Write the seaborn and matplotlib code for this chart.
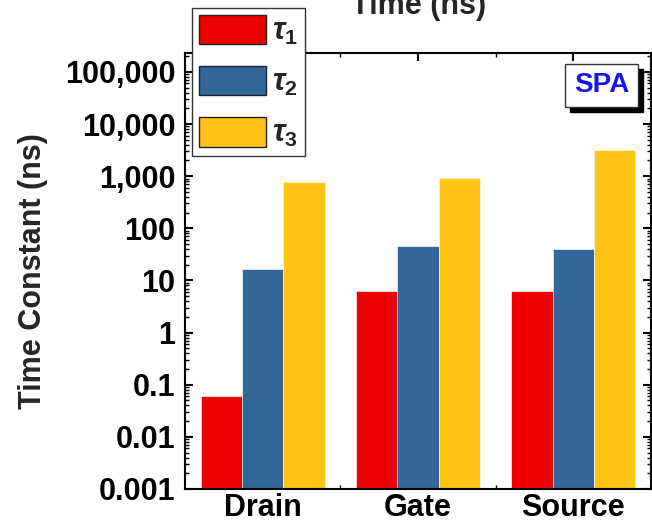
import numpy as np
import pandas as pd
import matplotlib
matplotlib.use("Agg")
import matplotlib.pyplot as plt
import seaborn as sns
from matplotlib.ticker import FixedLocator, FixedFormatter, LogLocator, NullFormatter
from matplotlib.patches import Rectangle, Patch

# Fitted time constants per terminal (ns)
terminals = ["Drain", "Gate", "Source"]
tau1 = [0.061, 6.2, 6.2]
tau2 = [16.3, 45.6, 40.6]
tau3 = [776, 915, 3200]
components = [r"$\tau_1$", r"$\tau_2$", r"$\tau_3$"]
colors = ["#EE0000", "#336699", "#FFC414"]

ytick_values = [1e-3, 1e-2, 1e-1, 1, 10, 100, 1e3, 1e4, 1e5]
ytick_labels = ["0.001", "0.01", "0.1", "1", "10", "100", "1,000", "10,000", "100,000"]

sns.set_theme(style="ticks")
plt.rcParams["font.family"] = ["Liberation Sans", "DejaVu Sans"]
plt.rcParams["font.weight"] = "bold"
plt.rcParams["mathtext.fontset"] = "custom"
plt.rcParams["mathtext.rm"] = "Liberation Sans:bold"
plt.rcParams["mathtext.it"] = "Liberation Sans:bold:italic"
plt.rcParams["mathtext.bf"] = "Liberation Sans:bold"

df = pd.DataFrame({
    "terminal": terminals * 3,
    "component": [c for c in components for _ in terminals],
    "value": tau1 + tau2 + tau3,
})

W, H = 652, 527
fig = plt.figure(figsize=(W / 100, H / 100), dpi=100)
ax = fig.add_axes([185 / W, 1 - 489 / H, 466 / W, 436 / H])

sns.barplot(data=df, x="terminal", y="value", hue="component",
            order=terminals, hue_order=components, palette=colors,
            saturation=1, width=0.8, gap=0, errorbar=None,
            edgecolor="#f2f2f2", linewidth=0.5, legend=False, ax=ax)

ax.set_yscale("log")
ax.set_ylim(1e-3, 2.3e5)
ax.set_xlim(-0.5, 2.5)

ax.yaxis.set_major_locator(FixedLocator(ytick_values))
ax.yaxis.set_major_formatter(FixedFormatter(ytick_labels))
ax.yaxis.set_minor_locator(LogLocator(base=10, subs=np.arange(2, 10), numticks=30))
ax.yaxis.set_minor_formatter(NullFormatter())
ax.set_xticks(range(len(terminals)))
ax.set_xticklabels(terminals)
ax.set_xticks([0.5, 1.5], minor=True)

ax.tick_params(which="both", direction="in", left=True, right=True,
               top=True, bottom=True, colors="black")
ax.tick_params(which="major", length=6, width=1.5)
ax.tick_params(which="minor", length=3, width=1.0)
ax.tick_params(axis="y", labelsize=22, pad=7)
ax.tick_params(axis="x", labelsize=22, pad=3)
for lab in ax.get_xticklabels() + ax.get_yticklabels():
    lab.set_fontweight("bold")

for sp in ax.spines.values():
    sp.set_visible(True)
    sp.set_color("black")
    sp.set_linewidth(1.5)

ax.set_xlabel("")
ax.set_ylabel("Time Constant (ns)", fontsize=22, fontweight="bold")
ax.yaxis.set_label_coords(-0.293, 0.5)

# Legend
handles = [Patch(facecolor=c, edgecolor="#222222", linewidth=1.0) for c in colors]
leg = fig.legend(handles, components, loc="upper left",
                 bbox_to_anchor=(192 / W, 1 - 8 / H), bbox_transform=fig.transFigure,
                 fontsize=22, handlelength=2.19, handleheight=1.11,
                 labelspacing=0.62, handletextpad=0.22, borderpad=0.22,
                 borderaxespad=0, frameon=True, fancybox=False,
                 edgecolor="#333333", framealpha=1)
leg.get_frame().set_linewidth(1.0)

# "SPA" tag with drop shadow
bx, by, bw, bh = 565, 64, 73, 43
fig.add_artist(Rectangle(((bx + 5) / W, 1 - (by + bh + 5) / H), bw / W, bh / H,
                         transform=fig.transFigure, facecolor="black",
                         edgecolor="black", zorder=3))
fig.add_artist(Rectangle((bx / W, 1 - (by + bh) / H), bw / W, bh / H,
                         transform=fig.transFigure, facecolor="white",
                         edgecolor="#333333", linewidth=1.0, zorder=4))
fig.text((bx + bw / 2) / W, 1 - (by + bh / 2) / H, "SPA", ha="center", va="center",
         fontsize=20, fontweight="bold", color="#1515F0", zorder=5)

# Axis title of the panel above, clipped by the figure edge
fig.text(419 / W, 1 - 14 / H, "Time (ns)", ha="center", va="baseline",
         fontsize=22, fontweight="bold")

fig.savefig("out.png", dpi=100)
